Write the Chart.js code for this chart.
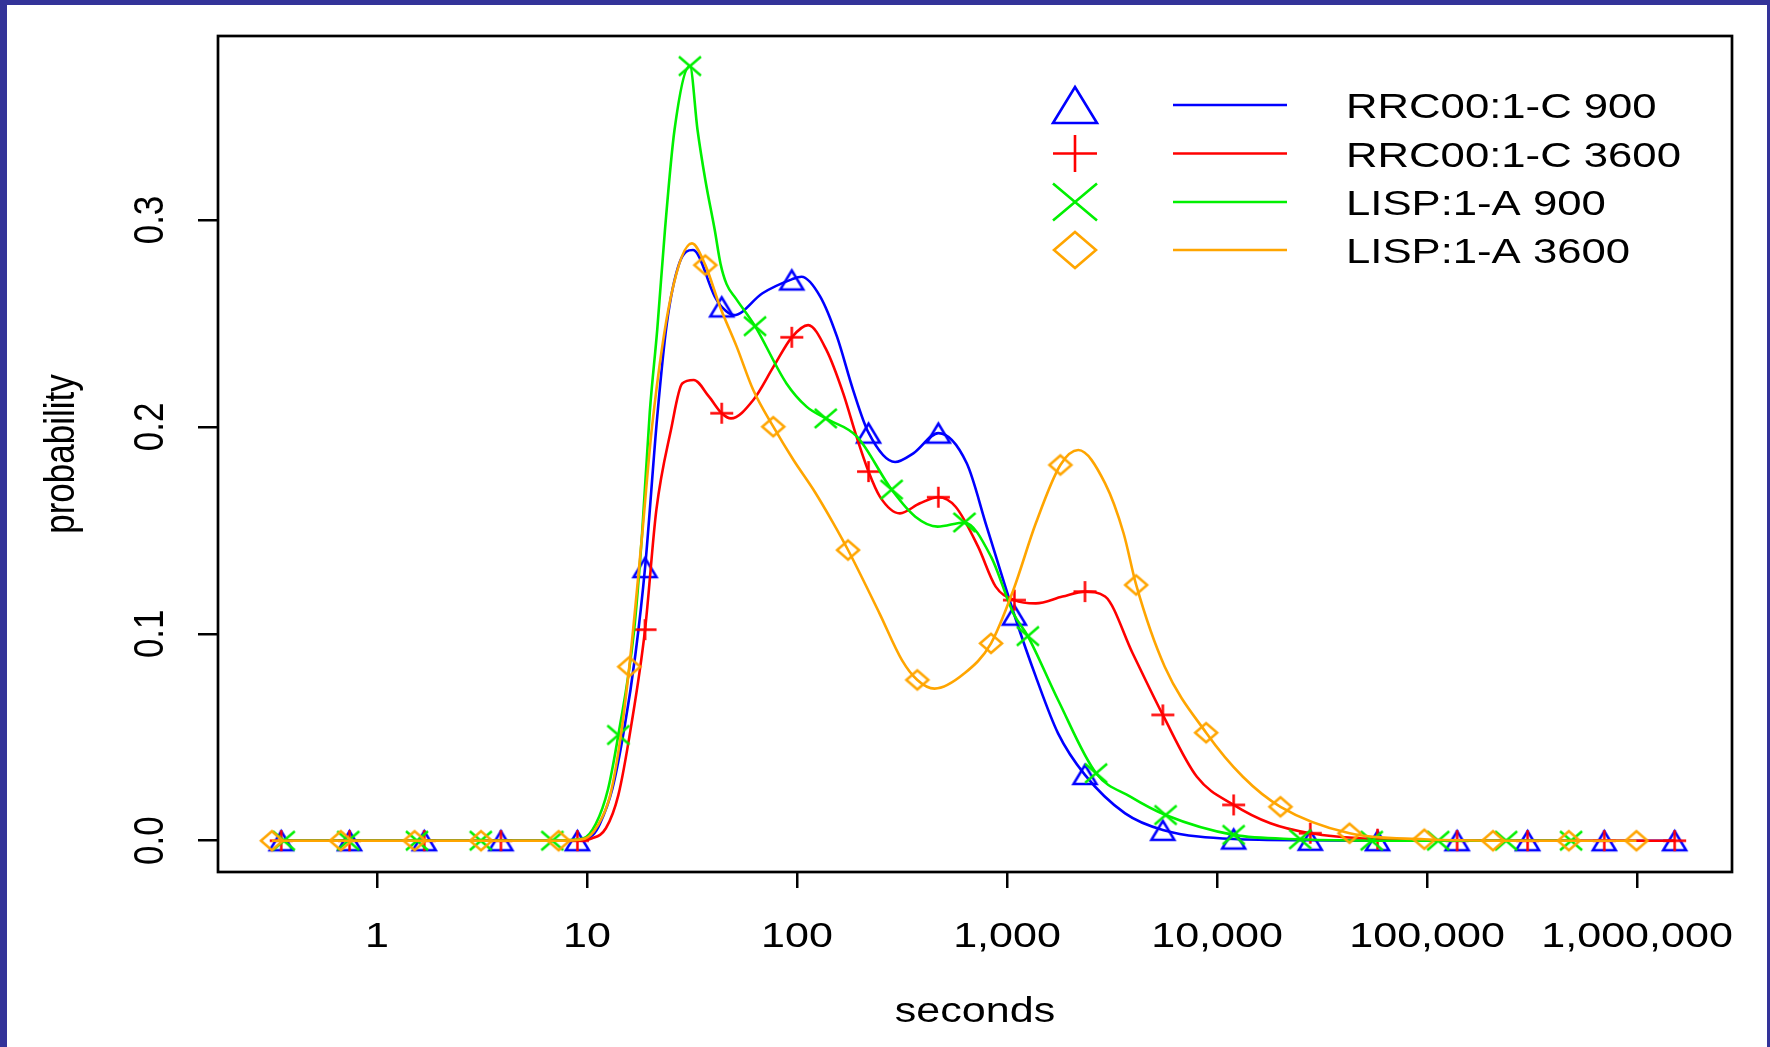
<!DOCTYPE html>
<html>
<head>
<meta charset="utf-8">
<title>probability by seconds</title>
<script src="https://cdn.jsdelivr.net/npm/chart.js@4.4.1/dist/chart.umd.min.js"></script>
<style>
  html, body { margin: 0; padding: 0; background: #ffffff; }
  #wrap { position: relative; width: 1770px; height: 1047px; }
</style>
</head>
<body>
<div id="wrap"><canvas id="probChart" width="1770" height="1047"></canvas></div>
<script>
// series names (legend order)
const seriesNames = ['RRC00:1-C 900', 'RRC00:1-C 3600', 'LISP:1-A 900', 'LISP:1-A 3600'];

// axis ticks
const xTicks = [1, 10, 100, 1000, 10000, 100000, 1000000];
const xTickLabels = ['1', '10', '100', '1,000', '10,000', '100,000', '1,000,000'];
const yTicks = [0, 0.1, 0.2, 0.3];
const yTickLabels = ['0.0', '0.1', '0.2', '0.3'];

// RRC00:1-C 900 (blue, triangles)
const rrc900MarkX = [0.35, 0.74, 1.68, 3.89, 9.0, 18.9, 43.8, 94.4, 219, 471, 1084, 2350, 5520, 12000, 27800, 58100, 139000, 301000, 698000, 1510000];
const rrc900MarkY = [0, 0, 0, 0, 0, 0.132, 0.258, 0.271, 0.197, 0.197, 0.109, 0.032, 0.005, 0.0008, 0.0002, 0, 0, 0, 0, 0];
const rrc900CurveX = [0.35, 0.74, 1.68, 3.89, 9.0, 10.7, 11.5, 13.2, 15.1, 17.0, 18.9, 21.6, 24.0, 27.5, 32.0, 40.6, 43.8, 50.1, 68.5, 94.4, 105, 129, 155, 185, 219, 293, 358, 471, 643, 800, 1084, 1371, 1750, 2350, 3650, 5520, 12000, 27800, 58100, 139000, 301000, 698000, 1510000];
const rrc900CurveY = [0, 0, 0, 0, 0, 0.003, 0.008, 0.025, 0.055, 0.09, 0.132, 0.205, 0.25, 0.279, 0.2855, 0.263, 0.258, 0.254, 0.2646, 0.2713, 0.2726, 0.263, 0.2436, 0.2178, 0.1972, 0.183, 0.1872, 0.197, 0.1824, 0.1518, 0.1091, 0.0793, 0.0519, 0.0318, 0.0132, 0.0052, 0.0008, 0.0002, 0, 0, 0, 0, 0];

// RRC00:1-C 3600 (red, plus)
const rrc3600MarkX = [0.35, 0.74, 1.68, 3.89, 9.0, 18.9, 43.8, 94.4, 219, 471, 1084, 2350, 5520, 12000, 27800, 58100, 139000, 301000, 698000, 1510000];
const rrc3600MarkY = [0, 0, 0, 0, 0, 0.102, 0.2066, 0.2433, 0.1784, 0.166, 0.1163, 0.1204, 0.0608, 0.0173, 0.0036, 0.0007, 0, 0, 0, 0];
const rrc3600CurveX = [0.35, 0.74, 1.68, 3.89, 9.0, 10.5, 12.3, 14.1, 16.2, 18.9, 21.4, 25.1, 28.4, 32.2, 38.1, 43.8, 48.5, 61.9, 77.3, 94.4, 113, 138, 166, 192, 219, 248, 309, 385, 471, 569, 728, 883, 1084, 1371, 1837, 2350, 2931, 3963, 5520, 8017, 12000, 17947, 27800, 58100, 139000, 301000, 698000, 1510000];
const rrc3600CurveY = [0, 0, 0, 0, 0, 0.001, 0.006, 0.022, 0.055, 0.102, 0.16, 0.1985, 0.221, 0.2227, 0.2146, 0.2066, 0.2041, 0.213, 0.2291, 0.2433, 0.2492, 0.2372, 0.2162, 0.1953, 0.1784, 0.1663, 0.1582, 0.1631, 0.166, 0.1614, 0.1421, 0.1228, 0.1163, 0.1147, 0.118, 0.1204, 0.118, 0.0906, 0.0608, 0.0309, 0.0173, 0.0084, 0.0036, 0.0007, 0, 0, 0, 0];

// LISP:1-A 900 (green, crosses)
const lisp900MarkX = [0.36, 0.73, 1.55, 3.12, 6.84, 14.1, 30.9, 63.1, 137, 282, 627, 1256, 2655, 5690, 12000, 24900, 54500, 113000, 238000, 485000];
const lisp900MarkY = [0, 0, 0, 0, 0, 0.0511, 0.3744, 0.2487, 0.2041, 0.1697, 0.1538, 0.0989, 0.0326, 0.0124, 0.0028, 0.0007, 0, 0, 0, 0];
const lisp900CurveX = [0.36, 0.73, 1.55, 3.12, 6.84, 9.55, 11.0, 12.6, 14.1, 16.7, 18.3, 19.9, 21.6, 23.5, 26.1, 30.9, 33.6, 36.6, 40.6, 43.2, 46.2, 51.2, 63.1, 89.1, 111, 137, 193, 282, 366, 467, 627, 839, 1072, 1256, 1750, 2655, 3864, 5690, 12000, 24900, 54500, 113000, 238000, 485000];
const lisp900CurveY = [0, 0, 0, 0, 0, 0.001, 0.008, 0.025, 0.0511, 0.1002, 0.1487, 0.207, 0.247, 0.295, 0.3435, 0.3744, 0.3435, 0.3193, 0.295, 0.279, 0.269, 0.262, 0.2487, 0.221, 0.2098, 0.2041, 0.1953, 0.1697, 0.1566, 0.1518, 0.1538, 0.1373, 0.1099, 0.0989, 0.068, 0.0326, 0.0213, 0.0124, 0.0028, 0.0007, 0, 0, 0, 0];

// LISP:1-A 3600 (orange, diamonds)
const lisp3600MarkX = [0.316, 0.673, 1.51, 3.13, 7.33, 15.9, 36.6, 77.1, 175, 374, 839, 1795, 4121, 8872, 20045, 42756, 97051, 206063, 473151, 993116];
const lisp3600MarkY = [0, 0, 0, 0, 0, 0.0841, 0.2782, 0.2001, 0.1405, 0.0777, 0.0954, 0.1816, 0.1236, 0.0522, 0.0164, 0.0036, 0.0007, 0, 0, 0];
const lisp3600CurveX = [0.316, 0.673, 1.51, 3.13, 7.33, 9.77, 11.2, 12.9, 14.5, 15.9, 18.2, 20.4, 25.1, 31.6, 36.6, 43.0, 51.6, 61.9, 77.1, 96.2, 120, 149, 175, 247, 316, 374, 452, 627, 839, 1072, 1371, 1795, 2183, 2931, 3589, 4121, 5636, 8872, 13274, 20045, 42756, 97051, 206063, 473151, 993116];
const lisp3600CurveY = [0, 0, 0, 0, 0, 0.001, 0.007, 0.022, 0.051, 0.0841, 0.145, 0.2, 0.263, 0.2887, 0.2782, 0.2581, 0.2388, 0.2178, 0.2001, 0.184, 0.1695, 0.1534, 0.1405, 0.1099, 0.0873, 0.0777, 0.0735, 0.0809, 0.0954, 0.1212, 0.1534, 0.1816, 0.1888, 0.1727, 0.1486, 0.1236, 0.0841, 0.0522, 0.0309, 0.0164, 0.0036, 0.0007, 0, 0, 0];

const colors = ['#0000ff', '#ff0000', '#00f000', '#ffa500'];
const shapes = ['tri', 'plus', 'x', 'diamond'];

// R output was stretched sideways, text too
const STRETCH = 1.23;
const FONT = '"Liberation Sans", Arial, Helvetica, sans-serif';

// draw one R style plotting symbol, w and h are the full width / height
function drawMarker(ctx, shape, cx, cy, w, h, color, lw) {
    ctx.save();
    ctx.strokeStyle = color;
    ctx.lineWidth = lw;
    ctx.beginPath();
    if (shape === 'tri') {
        ctx.moveTo(cx, cy - h / 2);
        ctx.lineTo(cx + w / 2, cy + h / 2);
        ctx.lineTo(cx - w / 2, cy + h / 2);
        ctx.closePath();
    } else if (shape === 'plus') {
        ctx.moveTo(cx - w / 2, cy); ctx.lineTo(cx + w / 2, cy);
        ctx.moveTo(cx, cy - h / 2); ctx.lineTo(cx, cy + h / 2);
    } else if (shape === 'x') {
        ctx.moveTo(cx - w / 2, cy - h / 2); ctx.lineTo(cx + w / 2, cy + h / 2);
        ctx.moveTo(cx + w / 2, cy - h / 2); ctx.lineTo(cx - w / 2, cy + h / 2);
    } else {
        ctx.moveTo(cx, cy - h / 2);
        ctx.lineTo(cx + w / 2, cy);
        ctx.lineTo(cx, cy + h / 2);
        ctx.lineTo(cx - w / 2, cy);
        ctx.closePath();
    }
    ctx.stroke();
    ctx.restore();
}

// small canvas used as a Chart.js pointStyle
function markerImage(shape, color) {
    const sizes = { tri: [23, 19], plus: [23, 21], x: [22, 19], diamond: [22, 19] };
    const [w, h] = sizes[shape];
    const c = document.createElement('canvas');
    c.width = w + 8;
    c.height = h + 8;
    drawMarker(c.getContext('2d'), shape, c.width / 2, c.height / 2, w, h, color, 2.5);
    return c;
}

function pairs(xs, ys) {
    return xs.map((x, i) => ({ x: x, y: ys[i] }));
}

const curveX = [rrc900CurveX, rrc3600CurveX, lisp900CurveX, lisp3600CurveX];
const curveY = [rrc900CurveY, rrc3600CurveY, lisp900CurveY, lisp3600CurveY];
const markX = [rrc900MarkX, rrc3600MarkX, lisp900MarkX, lisp3600MarkX];
const markY = [rrc900MarkY, rrc3600MarkY, lisp900MarkY, lisp3600MarkY];

// build datasets: a smooth line plus a marker set per series, orange ends on top
const datasets = [];
seriesNames.forEach((name, i) => {
    datasets.push({
        label: name,
        data: pairs(curveX[i], curveY[i]),
        showLine: true,
        borderColor: colors[i],
        borderWidth: 2.6,
        pointRadius: 0,
        pointHoverRadius: 0,
        cubicInterpolationMode: 'monotone',
        fill: false,
        order: 8 - 2 * i
    });
    datasets.push({
        label: name + ' points',
        data: pairs(markX[i], markY[i]),
        showLine: false,
        pointStyle: markerImage(shapes[i], colors[i]),
        pointRadius: 10,
        pointHoverRadius: 10,
        order: 7 - 2 * i
    });
});

function stretchedText(ctx, text, x, y, size, align, rotate) {
    ctx.save();
    ctx.translate(x, y);
    ctx.scale(STRETCH, 1);
    if (rotate) ctx.rotate(-Math.PI / 2);
    ctx.font = size + 'px ' + FONT;
    ctx.textAlign = align;
    ctx.textBaseline = 'alphabetic';
    ctx.fillStyle = '#000000';
    ctx.fillText(text, 0, 0);
    ctx.restore();
}

// page frame, plot box, axis text and the legend, drawn the way R does it
const rDecor = {
    id: 'rDecor',
    beforeDraw(chart) {
        const ctx = chart.ctx;
        ctx.save();
        ctx.fillStyle = '#ffffff';
        ctx.fillRect(0, 0, chart.width, chart.height);
        ctx.fillStyle = '#333399';
        ctx.fillRect(0, 0, chart.width, 5);
        ctx.fillRect(0, 0, 7, chart.height);
        ctx.fillRect(chart.width - 3, 0, 3, chart.height);
        ctx.restore();
    },
    afterDraw(chart) {
        const ctx = chart.ctx;
        const area = chart.chartArea;
        const xs = chart.scales.x;
        const ys = chart.scales.y;

        ctx.save();
        ctx.strokeStyle = '#000000';
        ctx.lineWidth = 2.7;
        ctx.strokeRect(area.left, area.top, area.right - area.left, area.bottom - area.top);
        ctx.restore();

        xTicks.forEach((v, i) => {
            stretchedText(ctx, xTickLabels[i], xs.getPixelForValue(v), area.bottom + 75, 35, 'center', false);
        });
        yTicks.forEach((v, i) => {
            stretchedText(ctx, yTickLabels[i], area.left - 55, ys.getPixelForValue(v), 35, 'center', true);
        });
        stretchedText(ctx, 'seconds', (area.left + area.right) / 2, area.bottom + 150, 35, 'center', false);
        stretchedText(ctx, 'probability', 74, (area.top + area.bottom) / 2, 35, 'center', true);

        // legend: symbol, line, label
        const rowY = [105, 153.5, 202, 250];
        seriesNames.forEach((name, i) => {
            const sz = { tri: [44, 36], plus: [44, 37], x: [44, 37], diamond: [42, 36] }[shapes[i]];
            drawMarker(ctx, shapes[i], 1075, rowY[i], sz[0], sz[1], colors[i], 2.6);
            ctx.save();
            ctx.strokeStyle = colors[i];
            ctx.lineWidth = 2.6;
            ctx.beginPath();
            ctx.moveTo(1173, rowY[i]);
            ctx.lineTo(1287, rowY[i]);
            ctx.stroke();
            ctx.restore();
            stretchedText(ctx, name, 1346, rowY[i] + 13, 35.5, 'left', false);
        });
    }
};

const ctx = document.getElementById('probChart').getContext('2d');

const chart = new Chart(ctx, {
    type: 'scatter',
    data: { datasets: datasets },
    options: {
        responsive: false,
        animation: false,
        devicePixelRatio: 1,
        layout: { padding: { left: 0, top: 36, right: 38, bottom: 0 } },
        plugins: {
            legend: { display: false },
            tooltip: { enabled: false }
        },
        scales: {
            x: {
                type: 'logarithmic',
                bounds: 'data',
                min: Math.pow(10, -0.757),
                max: Math.pow(10, 6.452),
                afterBuildTicks: (scale) => { scale.ticks = xTicks.map(v => ({ value: v })); },
                afterFit: (scale) => { scale.height = 175; },
                ticks: { display: false, autoSkip: false },
                grid: { drawOnChartArea: false, drawTicks: true, tickLength: 16, color: '#000000', lineWidth: 2.5 },
                border: { display: false }
            },
            y: {
                type: 'linear',
                bounds: 'data',
                min: -0.01513,
                max: 0.38893,
                afterBuildTicks: (scale) => { scale.ticks = yTicks.map(v => ({ value: v })); },
                afterFit: (scale) => { scale.width = 218; },
                ticks: { display: false, autoSkip: false },
                grid: { drawOnChartArea: false, drawTicks: true, tickLength: 20, color: '#000000', lineWidth: 2.5 },
                border: { display: false }
            }
        }
    },
    plugins: [rDecor]
});
</script>
</body>
</html>
